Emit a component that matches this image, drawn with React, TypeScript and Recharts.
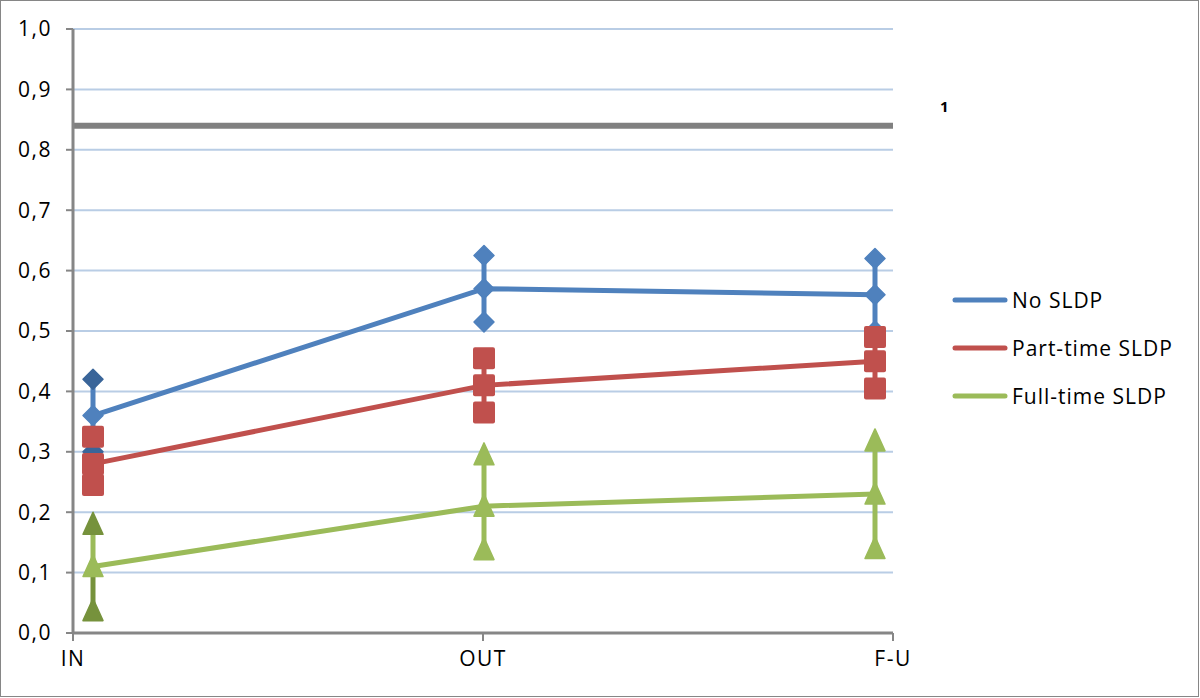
import React from 'react';
import {
  ComposedChart,
  Line,
  XAxis,
  YAxis,
  CartesianGrid,
  ErrorBar,
} from 'recharts';

const categories = ['IN', 'OUT', 'F-U'];

const noSldp = [0.36, 0.57, 0.56];
const noSldpHigh = [0.42, 0.625, 0.62];
const noSldpLow = [0.3, 0.515, 0.5];

const partTime = [0.28, 0.41, 0.45];
const partTimeHigh = [0.325, 0.455, 0.49];
const partTimeLow = [0.245, 0.365, 0.405];

const fullTime = [0.11, 0.21, 0.23];
const fullTimeHigh = [0.18, 0.295, 0.318];
const fullTimeLow = [0.037, 0.138, 0.14];

const threshold = 0.84;
const yTicks = [0, 0.1, 0.2, 0.3, 0.4, 0.5, 0.6, 0.7, 0.8, 0.9, 1.0];

const BLUE = '#4F81BD';
const BLUE_DARK = '#3A6599';
const RED = '#C0504D';
const GREEN = '#9BBB59';
const GREEN_DARK = '#76923C';
const AXIS = '#868686';
const GRID = '#B9CDE5';
const FONT = '"Open Sans", sans-serif';

const data = categories.map((cat, i) => ({
  cat,
  noMid: noSldp[i],
  noHigh: noSldpHigh[i],
  noLow: noSldpLow[i],
  ptMid: partTime[i],
  ptHigh: partTimeHigh[i],
  ptLow: partTimeLow[i],
  ftMid: fullTime[i],
  ftHigh: fullTimeHigh[i],
  ftLow: fullTimeLow[i],
  ref: threshold,
}));

type Kind = 'diamond' | 'square' | 'triangle';

function Marker({ cx, cy, kind, color }: { cx?: number; cy?: number; kind: Kind; color: string }) {
  if (cx == null || cy == null) return null;
  if (kind === 'diamond') {
    return (
      <polygon
        points={`${cx},${cy - 10} ${cx + 10},${cy} ${cx},${cy + 10} ${cx - 10},${cy}`}
        fill={color}
        stroke={color}
        strokeWidth={1.5}
        strokeLinejoin="round"
      />
    );
  }
  if (kind === 'square') {
    return <rect x={cx - 11} y={cy - 11} width={22} height={22} rx={2} fill={color} />;
  }
  return (
    <polygon
      points={`${cx},${cy - 12} ${cx + 10},${cy + 10} ${cx - 10},${cy + 10}`}
      fill={color}
      stroke={color}
      strokeWidth={1.5}
      strokeLinejoin="round"
    />
  );
}

const dotFor = (id: string, kind: Kind, color: string, inColor?: string) => (p: any) => (
  <Marker
    key={`${id}-${p.index}`}
    cx={p.cx}
    cy={p.cy}
    kind={kind}
    color={inColor && p.payload?.cat === 'IN' ? inColor : color}
  />
);

const legendItems = [
  { label: 'No SLDP', color: BLUE },
  { label: 'Part-time SLDP', color: RED },
  { label: 'Full-time SLDP', color: GREEN },
];

const tickStyle = { fill: '#000', fontSize: 21, fontFamily: FONT, letterSpacing: 1.5 };

export default function App() {
  return (
    <div
      style={{
        position: 'absolute',
        left: 0,
        top: 0,
        width: 1200,
        height: 698,
        background: '#fff',
        fontFamily: FONT,
      }}
    >
      <div
        style={{
          position: 'absolute',
          left: 0,
          top: 0,
          width: 1199,
          height: 697,
          border: `1px solid ${AXIS}`,
          boxSizing: 'border-box',
        }}
      />
      <ComposedChart
        width={1200}
        height={698}
        data={data}
        margin={{ top: 29, right: 307, bottom: 35, left: 0 }}
        style={{ position: 'absolute', left: 0, top: 0 }}
      >
        <CartesianGrid vertical={false} stroke={GRID} strokeWidth={2} xAxisId="lbl" />
        <XAxis
          xAxisId="data"
          dataKey="cat"
          type="category"
          scale="point"
          hide
          height={0}
          padding={{ left: 20, right: 18 }}
        />
        <XAxis
          xAxisId="lbl"
          dataKey="cat"
          type="category"
          scale="point"
          height={30}
          padding={{ left: 0, right: 0 }}
          axisLine={{ stroke: AXIS, strokeWidth: 3 }}
          tickLine={{ stroke: AXIS, strokeWidth: 2 }}
          tickSize={8}
          tickMargin={10}
          tick={tickStyle}
        />
        <YAxis
          domain={[0, 1]}
          ticks={yTicks}
          width={73}
          interval={0}
          axisLine={{ stroke: AXIS, strokeWidth: 3 }}
          tickLine={{ stroke: AXIS, strokeWidth: 2 }}
          tickSize={7}
          tickMargin={14}
          tick={tickStyle}
          tickFormatter={(v: number) => v.toFixed(1).replace('.', ',')}
        />

        <Line
          xAxisId="lbl"
          dataKey="ref"
          stroke="#808080"
          strokeWidth={6}
          dot={false}
          activeDot={false}
          isAnimationActive={false}
        />

        {/* No SLDP */}
        <Line
          xAxisId="data"
          dataKey="noMid"
          stroke={BLUE}
          strokeWidth={5}
          dot={dotFor('no', 'diamond', BLUE)}
          activeDot={false}
          isAnimationActive={false}
        >
          <ErrorBar
            dataKey={(d: any) => [d.noMid - d.noLow, d.noHigh - d.noMid]}
            width={0}
            stroke={BLUE}
            strokeWidth={5}
            direction="y"
            isAnimationActive={false}
          />
        </Line>
        <Line xAxisId="data" dataKey="noHigh" stroke="none" dot={dotFor('noH', 'diamond', BLUE, BLUE_DARK)} activeDot={false} isAnimationActive={false} />
        <Line xAxisId="data" dataKey="noLow" stroke="none" dot={dotFor('noL', 'diamond', BLUE, BLUE_DARK)} activeDot={false} isAnimationActive={false} />

        {/* Part-time SLDP */}
        <Line
          xAxisId="data"
          dataKey="ptMid"
          stroke={RED}
          strokeWidth={5}
          dot={dotFor('pt', 'square', RED)}
          activeDot={false}
          isAnimationActive={false}
        >
          <ErrorBar
            dataKey={(d: any) => [d.ptMid - d.ptLow, d.ptHigh - d.ptMid]}
            width={0}
            stroke={RED}
            strokeWidth={5}
            direction="y"
            isAnimationActive={false}
          />
        </Line>
        <Line xAxisId="data" dataKey="ptHigh" stroke="none" dot={dotFor('ptH', 'square', RED)} activeDot={false} isAnimationActive={false} />
        <Line xAxisId="data" dataKey="ptLow" stroke="none" dot={dotFor('ptL', 'square', RED)} activeDot={false} isAnimationActive={false} />

        {/* Full-time SLDP: darker lower bar at IN */}
        <Line xAxisId="data" dataKey="ftMid" stroke="none" dot={false} activeDot={false} isAnimationActive={false}>
          <ErrorBar
            dataKey={(d: any) => (d.cat === 'IN' ? [d.ftMid - d.ftLow, 0] : [0, 0])}
            width={0}
            stroke={GREEN_DARK}
            strokeWidth={5}
            direction="y"
            isAnimationActive={false}
          />
        </Line>
        <Line
          xAxisId="data"
          dataKey="ftMid"
          stroke={GREEN}
          strokeWidth={5}
          dot={dotFor('ft', 'triangle', GREEN)}
          activeDot={false}
          isAnimationActive={false}
        >
          <ErrorBar
            dataKey={(d: any) =>
              d.cat === 'IN' ? [0, d.ftHigh - d.ftMid] : [d.ftMid - d.ftLow, d.ftHigh - d.ftMid]
            }
            width={0}
            stroke={GREEN}
            strokeWidth={5}
            direction="y"
            isAnimationActive={false}
          />
        </Line>
        <Line xAxisId="data" dataKey="ftHigh" stroke="none" dot={dotFor('ftH', 'triangle', GREEN, GREEN_DARK)} activeDot={false} isAnimationActive={false} />
        <Line xAxisId="data" dataKey="ftLow" stroke="none" dot={dotFor('ftL', 'triangle', GREEN, GREEN_DARK)} activeDot={false} isAnimationActive={false} />
      </ComposedChart>

      <span
        style={{
          position: 'absolute',
          left: 940,
          top: 96,
          fontSize: 15,
          fontWeight: 'bold',
          color: '#000',
        }}
      >
        1
      </span>

      <div style={{ position: 'absolute', left: 952, top: 276 }}>
        {legendItems.map((it) => (
          <div key={it.label} style={{ display: 'flex', alignItems: 'center', height: 48 }}>
            <svg width={56} height={10} style={{ marginRight: 4 }}>
              <line x1={3} y1={5} x2={53} y2={5} stroke={it.color} strokeWidth={5} strokeLinecap="round" />
            </svg>
            <span style={{ fontSize: 21, color: '#000', lineHeight: '24px', letterSpacing: 1 }}>
              {it.label}
            </span>
          </div>
        ))}
      </div>
    </div>
  );
}
